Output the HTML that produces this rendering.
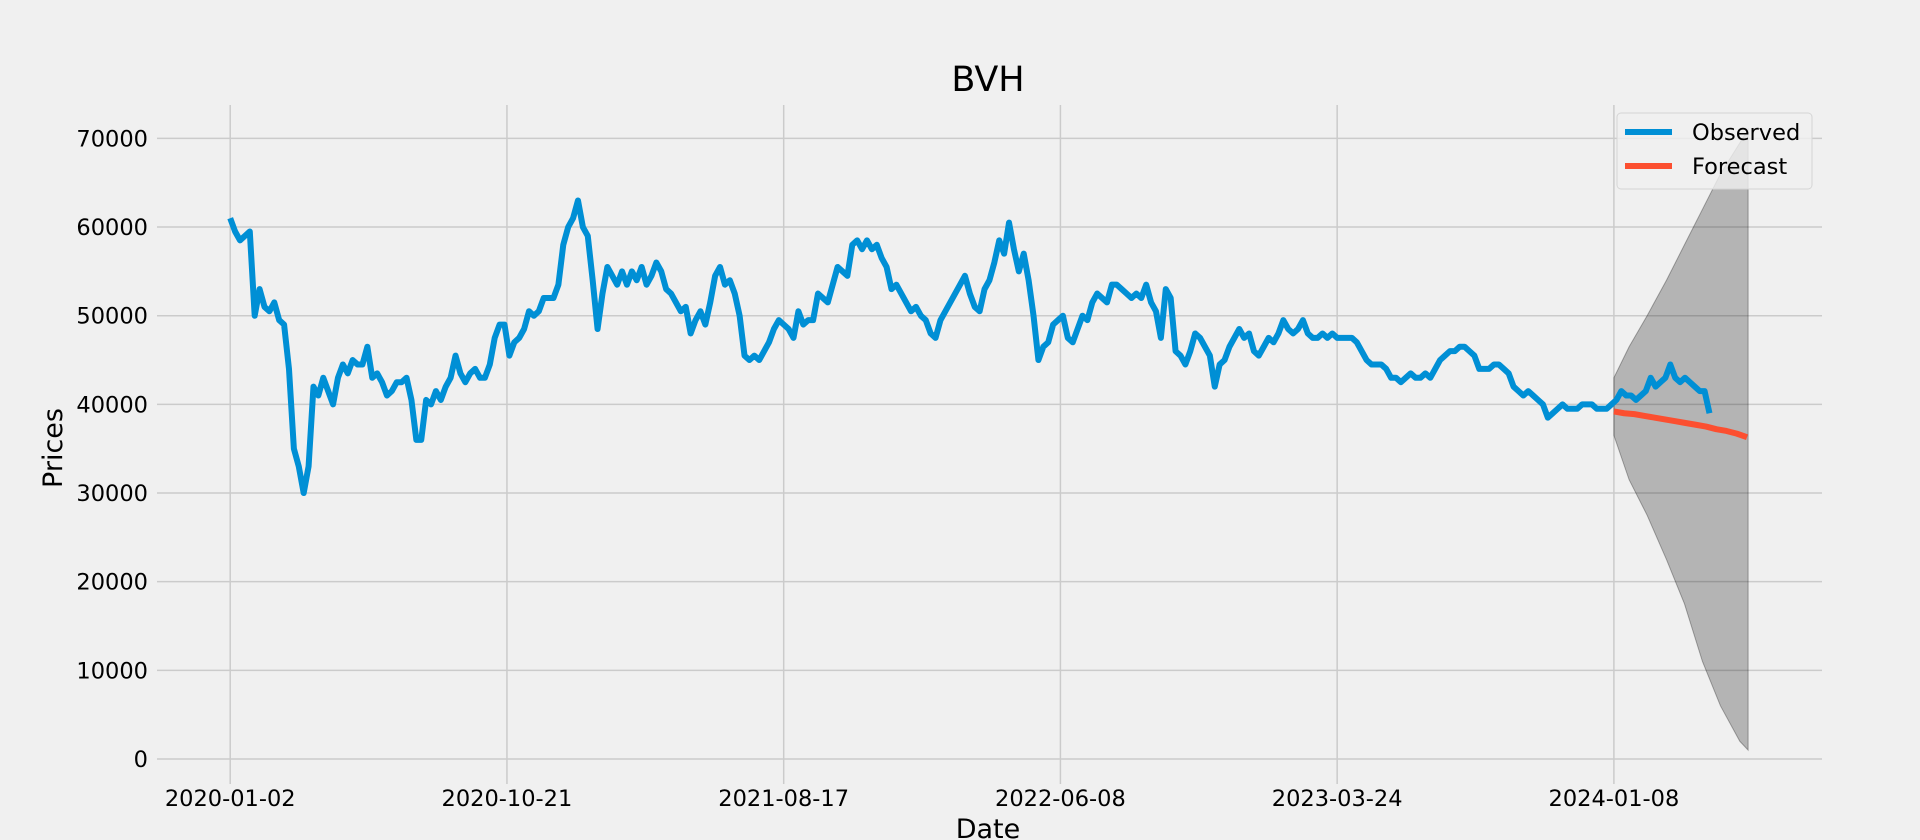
<!DOCTYPE html>
<html><head><meta charset="utf-8"><style>
html,body{margin:0;padding:0;background:#f0f0f0;}
svg{display:block;font-family:"DejaVu Sans","Liberation Sans",sans-serif;}
</style></head><body>
<svg id="chart" width="1920" height="840" viewBox="0 0 1920 840" xmlns="http://www.w3.org/2000/svg">
<rect x="0" y="0" width="1920" height="840" fill="#f0f0f0"/>
<g id="grid"></g>
<g id="ci"></g>
<g id="series"></g>
<g id="axes"></g>
<text x="988" y="91" font-size="35" text-anchor="middle" fill="#000">BVH</text>
<text x="988" y="838" font-size="27" text-anchor="middle" fill="#000">Date</text>
<text x="62" y="448" font-size="27" text-anchor="middle" fill="#000" transform="rotate(-90 62 448)">Prices</text>
<g>
<rect x="1617" y="113" width="195" height="76" rx="4" fill="#f0f0f0" fill-opacity="0.8" stroke="#d5d5d5"/>
<line x1="1625" y1="132" x2="1672" y2="132" stroke="#008fd5" stroke-width="6"/>
<text x="1692" y="140" font-size="22.5" fill="#000">Observed</text>
<line x1="1625" y1="166" x2="1672" y2="166" stroke="#fc4f30" stroke-width="6"/>
<text x="1692" y="174" font-size="22.5" fill="#000">Forecast</text>
</g>
</svg>
<script>
const xTickLabels = ["2020-01-02","2020-10-21","2021-08-17","2022-06-08","2023-03-24","2024-01-08"];
const xTickIndex = [0,200,400,600,800,1000];
const yTicks = [0,10000,20000,30000,40000,50000,60000,70000];
const observedStep = 3.54;
const observed = [61000,59500,58500,59000,59500,50000,53000,51000,50500,51500,49500,49000,44000,35000,33000,30000,33000,
42000,41000,43000,41500,40000,43000,44500,43500,45000,44500,44500,46500,43000,43500,42500,41000,41500,42500,42500,43000,40500,36000,36000,40500,40000,41500,40500,42000,43000,45500,43500,42500,43500,44000,43000,43000,44500,47500,49000,49000,45500,47000,47500,48500,50500,50000,50500,52000,52000,52000,53500,58000,60000,61000,63000,60000,59000,54000,48500,52500,55500,54500,53500,55000,53500,55000,54000,55500,53500,54500,56000,55000,53000,52500,51500,50500,51000,48000,49500,50500,49000,51500,54500,55500,53500,54000,52500,50000,45500,45000,45500,45000,46000,47000,48500,49500,49000,48500,47500,50500,49000,49500,49500,52500,52000,51500,53500,55500,55000,54500,58000,58500,57500,58500,57500,58000,56500,55500,53000,53500,52500,51500,50500,51000,50000,49500,48000,47500,49500,50500,51500,52500,53500,54500,52500,51000,50500,53000,54000,56000,58500,57000,60500,57500,55000,57000,54000,50000,45000,46500,47000,49000,49500,50000,47500,47000,48500,50000,49500,51500,52500,52000,51500,53500,53500,53000,52500,52000,52500,52000,53500,51500,50500,47500,53000,52000,46000,45500,44500,46000,48000,47500,46500,45500,42000,44500,45000,46500,47500,48500,47500,48000,46000,45500,46500,47500,47000,48000,49500,48500,48000,48500,49500,48000,47500,47500,48000,47500,48000,47500,47500,47500,47500,47000,46000,45000,44500,44500,44500,44000,43000,43000,42500,43000,43500,43000,43000,43500,43000,44000,45000,45500,46000,46000,46500,46500,46000,45500,44000,44000,44000,44500,44500,44000,43500,42000,41500,41000,41500,41000,40500,40000,38500,39000,39500,40000,39500,39500,39500,40000,40000,40000,39500,39500,39500,40000,40500,41500,41000,41000,40500,41000,41500,43000,42000,42500,43000,44500,43000,42500,43000,42500,42000,41500,41500,39000];
const forecastStart = 1000;
const forecastStep = 7.4;
const forecast = [39200,39000,38900,38700,38500,38300,38100,37900,37700,37500,37200,37000,36700,36300];
const ciIndex = [1000,1011,1024,1038,1051,1064,1077,1091,1097];
const ciUpper = [43000,46500,50000,54000,58000,62000,66000,69500,71000];
const ciLower = [36500,31500,27500,22500,17500,11000,6000,2000,1000];

const NS="http://www.w3.org/2000/svg";
const L=157,R=1822,T=105,B=784;
function xs(i){return 230.2+i*1.3837;}
function ys(v){return 759-v*(620.6/70000);}
function mk(tag,attrs,parent){const e=document.createElementNS(NS,tag);for(const k in attrs)e.setAttribute(k,attrs[k]);parent.appendChild(e);return e;}
const grid=document.getElementById('grid'),axes=document.getElementById('axes'),ser=document.getElementById('series'),ci=document.getElementById('ci');
yTicks.forEach(v=>{
 const g=mk('line',{x1:L,x2:R,y1:ys(v),y2:ys(v),stroke:'#cbcbcb','stroke-width':1.5},grid);
 
 
 const t=mk('text',{x:L-9,y:ys(v)+8,'font-size':22.5,'text-anchor':'end',fill:'#000'},axes);
 t.textContent=v;
 
 
});
xTickIndex.forEach((ix,k)=>{
 const g=mk('line',{x1:xs(ix),x2:xs(ix),y1:T,y2:B,stroke:'#cbcbcb','stroke-width':1.5},grid);
 
 
 const t=mk('text',{x:xs(ix),y:B+22,'font-size':22.5,'text-anchor':'middle',fill:'#000'},axes);
 t.textContent=xTickLabels[k];
 
 
});
let pts=ciIndex.map((ix,k)=>xs(ix)+','+ys(ciUpper[k]));
for(let k=ciIndex.length-1;k>=0;k--)pts.push(xs(ciIndex[k])+','+ys(ciLower[k]));
const poly=mk('polygon',{points:pts.join(' '),fill:'#000','fill-opacity':0.25,stroke:'#000','stroke-opacity':0.3},ci);


const op=mk('polyline',{points:observed.map((v,i)=>xs(i*observedStep)+','+ys(v)).join(' '),fill:'none',stroke:'#008fd5','stroke-width':6,'stroke-linejoin':'round'},ser);


const fp=mk('polyline',{points:forecast.map((v,i)=>xs(forecastStart+i*forecastStep)+','+ys(v)).join(' '),fill:'none',stroke:'#fc4f30','stroke-width':6,'stroke-linejoin':'round'},ser);


</script>
</body></html>
